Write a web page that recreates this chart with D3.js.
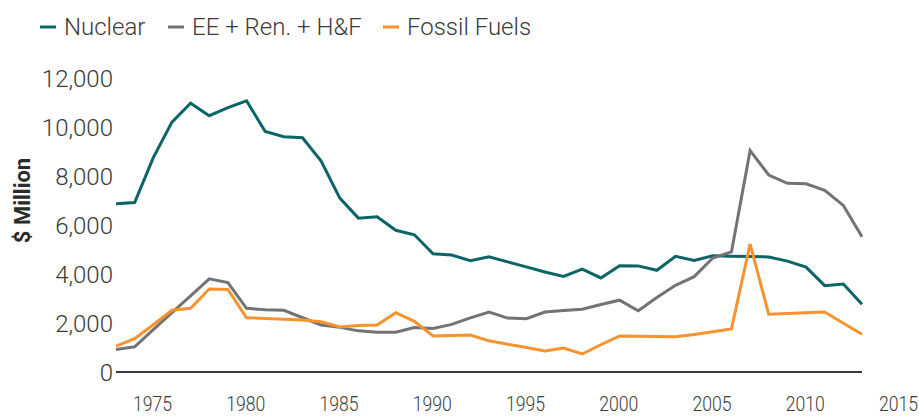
<!DOCTYPE html>
<html>
<head>
<meta charset="utf-8">
<script src="https://cdn.jsdelivr.net/npm/d3@7"></script>
<style>
  html, body { margin: 0; padding: 0; background: #ffffff; }
  svg { display: block; }
  .tick text { font-family: Roboto, "Open Sans", sans-serif; font-weight: 300; fill: #3a3a3a; }
  .legend text { font-family: Roboto, "Open Sans", sans-serif; font-weight: 300; fill: #3a3a3a; }
</style>
</head>
<body>
<svg id="chart" width="919" height="417"></svg>
<script>
// Energy RD&D spending by program area, $ million
const years = d3.range(1973, 2014);

const nuclear = [
  6870, 6920, 8750, 10200, 10970, 10460, 10790, 11070, 9820, 9604,
  9560, 8612, 7100, 6280, 6340, 5784, 5600, 4829, 4775, 4540,
  4700, 4493, 4289, 4084, 3900, 4200, 3840, 4339, 4330, 4150,
  4720, 4550, 4747, 4729, 4710, 4697, 4524, 4280, 3525, 3592,
  2763
];

const efficiencyRenewables = [
  920, 1030, 1730, 2420, 3110, 3800, 3650, 2600, 2540, 2518,
  2214, 1918, 1821, 1679, 1620, 1620, 1813, 1775, 1945, 2208,
  2450, 2200, 2176, 2450, 2511, 2565, 2753, 2930, 2502, 3042,
  3540, 3891, 4655, 4900, 9033, 8041, 7702, 7680, 7415, 6799,
  5522
];

const fossil = [
  1060, 1360, 1930, 2520, 2600, 3390, 3370, 2216, 2184, 2151,
  2119, 2050, 1834, 1900, 1918, 2420, 2070, 1470, 1490, 1510,
  1273, 1136, 1000, 860, 980, 735, 1111, 1469, 1460, 1450,
  1441, 1530, 1647, 1760, 5224, 2355, 2385, 2418, 2449, 1990,
  1539
];

const seriesNames = ["Nuclear", "EE + Ren. + H\u0026F", "Fossil Fuels"];
const seriesColors = ["#0b6466", "#737275", "#f7932e"];
const seriesValues = [nuclear, efficiencyRenewables, fossil];

const yTicks = [0, 2000, 4000, 6000, 8000, 10000, 12000];
const xTicks = [1975, 1980, 1985, 1990, 1995, 2000, 2005, 2010, 2015];

const svg = d3.select("#chart");

const x = d3.scaleLinear().domain([1973, 2015]).range([116, 899.3]);
const y = d3.scaleLinear().domain([0, 12000]).range([372, 78]);

// Y axis labels (no domain line, no tick marks)
const yAxis = svg.append("g")
  .attr("transform", `translate(${x(1973) - 3},0)`)
  .call(d3.axisLeft(y).tickValues(yTicks).tickSize(0).tickPadding(0)
    .tickFormat(d3.format(",")));
yAxis.select(".domain").remove();
yAxis.selectAll("text").style("font-size", "24px").attr("dy", "0.35em");

// X axis labels, set in a narrowed face
const xAxis = svg.append("g")
  .attr("transform", `translate(0,${y(0)})`)
  .call(d3.axisBottom(x).tickValues(xTicks).tickSize(0).tickPadding(0)
    .tickFormat(d3.format("d")));
xAxis.select(".domain").remove();
xAxis.selectAll("text")
  .style("font-size", "21px")
  .attr("y", 39)
  .attr("dy", 0)
  .attr("x", -1.5)
  .attr("transform", "scale(0.84,1)");

// Baseline spanning the data range
svg.append("line")
  .attr("x1", x(years[0])).attr("x2", x(years[years.length - 1]))
  .attr("y1", y(0)).attr("y2", y(0))
  .attr("stroke", "#3a3a3a").attr("stroke-width", 2);

// Y axis title
svg.append("text")
  .attr("transform", `translate(30,${y(7000)}) rotate(-90)`)
  .attr("text-anchor", "middle")
  .style("font-family", "Roboto, 'Open Sans', sans-serif")
  .style("font-weight", 700)
  .style("font-size", "22px")
  .style("fill", "#2b2b2b")
  .text("$ Million");

// Series lines
const line = d3.line()
  .x((d, i) => x(years[i]))
  .y(d => y(d));

seriesValues.forEach((vals, k) => {
  svg.append("path")
    .datum(vals)
    .attr("fill", "none")
    .attr("stroke", seriesColors[k])
    .attr("stroke-width", 3)
    .attr("stroke-linejoin", "miter")
    .attr("d", line);
});

// Legend
const legendX = [40, 168, 383];
const legend = svg.append("g").attr("class", "legend");
seriesNames.forEach((name, k) => {
  const g = legend.append("g").attr("transform", `translate(${legendX[k]},27)`);
  g.append("line")
    .attr("x1", 0).attr("x2", 16).attr("y1", 0).attr("y2", 0)
    .attr("stroke", seriesColors[k]).attr("stroke-width", 3);
  g.append("text")
    .attr("x", 24).attr("y", 0).attr("dy", "0.35em")
    .style("font-size", "24px")
    .text(name);
});
</script>
</body>
</html>
